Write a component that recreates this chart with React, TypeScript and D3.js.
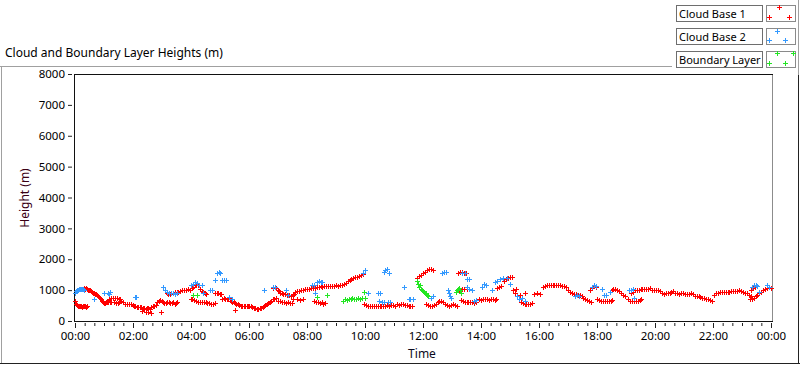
import React, { useEffect, useRef } from 'react';
import * as d3 from 'd3';

// [minutes since 00:00, height m]
const cloudBase1: [number, number][] = [
  [0,640],[2,560],[4,520],[6,500],[8,490],[10,470],[12,480],[14,460],[16,490],[18,470],[20,480],[22,460],[25,470],
  [19,1060],[21,1040],[23,1060],[25,1030],[27,1020],[29,1000],[31,990],[33,970],[35,940],[37,920],[39,900],[41,880],[43,860],[45,830],[47,800],[49,790],[51,760],
  [53,700],[55,640],[57,610],[59,590],[61,580],[63,590],[65,600],[67,600],[69,620],[72,610],[75,630],
  [70,720],[74,760],[78,750],[82,730],[86,760],[90,720],[94,700],
  [80,620],[84,590],[88,580],[92,600],[96,640],[100,600],[104,560],[108,540],[112,550],[116,540],[120,520],
  [122,480],[125,470],[128,450],[131,440],[134,460],[137,440],[140,420],[143,430],[146,400],[149,420],[152,410],[155,390],
  [138,340],[146,300],[150,280],[158,270],
  [158,460],[161,470],[164,490],[167,530],[170,600],[173,650],[176,680],[179,660],[178,290],
  [182,600],[185,590],[188,580],[191,600],[194,610],[197,590],[200,580],[203,600],[206,560],[209,570],[212,600],
  [190,900],[193,860],[196,880],[199,900],[202,920],[206,940],[210,930],[214,950],[218,980],[222,1000],[226,1000],[230,1010],[234,1030],[238,1020],[242,1060],[245,1100],[248,1150],[251,1160],[254,1180],
  [240,700],[243,720],[246,690],[250,650],[254,630],[258,620],[262,600],[266,610],[270,600],[274,580],[278,570],[282,560],[286,560],[290,570],
  [256,1150],[259,1050],[262,980],[265,940],[268,900],[271,880],
  [290,900],[293,920],[296,900],[299,880],[302,860],
  [305,720],[308,730],[311,720],[314,710],[317,720],[320,710],[323,700],
  [322,650],[325,620],[328,600],[331,580],[334,560],[337,540],[340,520],[330,350],
  [343,500],[346,490],[349,480],[352,490],[355,480],[358,470],[361,470],[364,480],[367,460],
  [370,430],[373,410],[376,400],[379,390],[382,410],[385,420],
  [388,450],[391,480],[394,520],[397,550],[400,580],
  [403,620],[406,660],[409,700],[412,720],[415,750],
  [410,1080],[413,1100],[416,1060],
  [419,1000],[422,960],[425,920],[428,900],[431,880],[434,870],
  [420,660],[424,640],[428,620],[432,600],[436,590],[440,600],[444,580],[448,590],
  [438,850],[442,830],[446,820],[450,840],[454,860],
  [456,950],[460,960],[464,980],
  [452,700],[460,700],[466,690],[472,700],
  [468,1000],[472,1020],[476,1040],[480,1030],[484,1050],[488,1060],[492,1070],[496,1080],[500,1090],
  [504,1110],[508,1120],[512,1110],[516,1120],[520,1130],[524,1120],[528,1140],[532,1130],[536,1140],[540,1150],[544,1140],[548,1160],[552,1170],
  [556,1200],[560,1240],[564,1280],[568,1320],[572,1360],[576,1380],[580,1420],[584,1440],[588,1470],[592,1500],[596,1530],
  [494,660],[498,620],[502,600],[506,580],[510,600],[514,560],[518,580],
  [598,560],[602,520],[606,500],[610,480],[614,470],[618,480],[622,470],[626,480],[630,490],[634,500],[638,490],[642,500],[646,510],[650,500],
  [654,520],[658,530],[662,500],[666,540],[670,520],[674,560],[678,550],[682,520],[686,510],[690,500],[694,490],[698,500],
  [708,1400],[712,1450],[716,1500],[720,1560],[724,1600],[728,1660],[732,1700],[736,1680],[740,1650],
  [726,560],[730,520],[734,500],[738,480],[742,520],[746,560],[750,600],[754,640],[758,660],[762,620],[766,560],[770,520],[774,500],[778,520],[782,540],[786,520],[790,500],
  [792,1560],[796,1580],[800,1600],[804,1560],[808,1550],
  [795,1000],[800,1030],[805,1050],[810,1040],
  [798,680],[802,650],[806,620],[810,610],[814,600],[818,620],[822,600],[826,590],[830,610],
  [836,700],[840,690],[844,720],[848,700],[852,710],[856,690],[860,700],[864,700],[868,680],[872,700],
  [874,1060],[878,1100],[882,1140],
  [888,1300],[892,1350],[896,1400],[900,1440],[904,1420],
  [906,1000],[910,900],[914,800],[918,700],[922,620],[926,580],[930,560],[934,540],[938,560],[942,550],[946,580],
  [912,1050],[920,850],[930,900],
  [950,880],[956,900],[962,870],
  [968,1100],[972,1130],[976,1150],[980,1160],[984,1170],[988,1180],[992,1170],[996,1160],[1000,1150],[1004,1160],[1008,1140],[1012,1120],[1016,1100],
  [1020,1000],[1024,950],[1028,900],[1032,880],[1036,860],[1040,840],
  [1044,850],[1048,800],[1052,760],[1056,720],[1060,680],[1064,640],[1068,610],
  [1066,1000],[1070,1080],[1074,1120],[1078,1100],
  [1080,720],[1084,680],[1088,650],[1092,640],[1096,650],[1100,640],[1104,660],[1108,650],[1112,680],
  [1110,1000],[1114,1050],[1118,1030],[1122,1000],[1126,960],
  [1130,900],[1134,850],[1138,800],
  [1144,700],[1148,660],[1152,640],[1156,650],[1160,640],[1164,650],[1168,680],[1172,700],
  [1150,900],[1154,950],[1158,1000],[1162,1020],[1166,1010],[1170,1040],[1174,1050],[1178,1030],[1182,1050],[1186,1040],[1190,1060],[1194,1020],[1198,1000],[1202,1010],[1206,990],[1210,980],
  [1214,900],[1218,880],[1222,900],[1226,910],[1230,920],[1234,940],[1238,960],[1242,920],[1246,900],[1250,880],
  [1254,920],[1258,900],[1262,880],[1266,860],[1270,880],[1274,900],[1278,860],[1282,820],[1286,800],
  [1290,800],[1294,780],[1298,760],[1302,740],[1306,720],[1310,700],[1314,680],[1318,660],
  [1322,850],[1326,900],[1330,920],[1334,930],[1338,940],[1342,940],[1346,950],[1350,940],[1354,950],[1358,960],[1362,970],[1366,960],[1370,980],[1374,990],[1378,960],[1382,940],[1386,920],[1390,900],
  [1394,850],[1398,800],
  [1396,720],[1400,700],[1404,760],[1408,800],[1412,850],[1416,900],[1420,950],[1424,1000],[1428,1050],[1432,1080],[1436,1100],[1440,1080],
  [1398,1000],[1402,1060],[1406,1100],
];

const cloudBase2: [number, number][] = [
  [0,900],[2,960],[4,1000],[6,1010],[8,1030],[10,1040],[12,1050],[14,1050],[16,1040],[18,1020],
  [40,710],[60,900],[68,920],[70,860],[72,950],[124,780],[126,790],
  [182,1100],[186,1000],[190,950],[194,920],[198,900],[202,920],[206,880],[210,920],
  [240,1160],[244,1200],[248,1250],[252,1220],[256,1180],[262,1150],[265,900],[280,1000],[284,1000],
  [290,1330],[294,1560],[298,1580],[300,1540],[304,1330],[308,1330],[312,1330],[318,780],[324,700],
  [390,1000],[410,1110],[414,1100],[436,1000],[440,850],[490,1170],[494,1180],[496,900],
  [500,1270],[504,1280],[508,1270],[512,1260],
  [596,1550],[600,1650],[606,900],[626,900],[628,650],[632,900],[636,600],[640,610],[648,600],[652,600],
  [640,1600],[642,1650],[646,1700],[650,1540],[680,1100],[690,700],[694,720],[700,700],
  [730,800],[736,750],[740,800],[760,1560],[764,1600],[768,1580],[772,1000],[774,900],[776,800],[778,750],
  [800,1550],[806,1560],[812,1350],[816,1360],[810,1100],[816,1050],[822,1000],[826,650],[830,680],
  [842,1100],[846,1200],[850,1150],[862,1000],[870,1250],[874,1300],[880,1350],[886,1400],[894,1400],
  [900,1200],[914,800],[918,700],[924,750],[932,650],
  [1034,800],[1038,850],[1042,820],[1070,1100],[1074,1150],[1078,1120],[1090,1050],[1094,850],[1098,850],[1106,950],
  [1146,1000],[1150,1000],[1154,1050],[1156,750],
  [1400,1100],[1404,1150],[1408,1150],[1412,1120],[1416,950],[1432,1150],[1436,1100],
];

const boundaryLayer: [number, number][] = [
  [245,830],[252,850],[500,780],[522,850],
  [555,650],[558,700],[562,680],[566,700],[570,720],[574,740],[578,700],[582,720],[586,760],[590,700],[594,750],[598,950],[600,760],
  [708,1300],[710,1200],[712,1100],[714,1150],[716,1050],[718,1000],[720,980],[722,950],[724,900],[726,920],[728,850],[730,800],
  [788,950],[790,1000],[792,1050],[794,1080],[796,1000],[798,900],
];

const yTicks = [0, 1000, 2000, 3000, 4000, 5000, 6000, 7000, 8000];
const xMajorTicks = [0, 120, 240, 360, 480, 600, 720, 840, 960, 1080, 1200, 1320, 1440];
const xTickLabels = ['00:00', '02:00', '04:00', '06:00', '08:00', '10:00', '12:00', '14:00', '16:00', '18:00', '20:00', '22:00', '00:00'];

const seriesNames = ['Cloud Base 1', 'Cloud Base 2', 'Boundary Layer'];
const seriesColors = ['#ff0000', '#3399ff', '#22e622'];

const FONT = '"Noto Sans", "Open Sans", sans-serif';

const plusPath = (cx: number, cy: number) => {
  const x = Math.round(cx);
  const y = Math.round(cy);
  return `M${x - 2},${y + 0.5}h5M${x + 0.5},${y - 2}v5`;
};

const App = () => {
  const svgRef = useRef<SVGSVGElement | null>(null);
  const width = 800;
  const height = 365;

  useEffect(() => {
    if (!svgRef.current) return;
    const svg = d3.select(svgRef.current);
    svg.selectAll('*').remove();

    const x = d3.scaleLinear().domain([0, 1440]).range([75, 771]);
    const y = d3.scaleLinear().domain([0, 8000]).range([321, 74]);

    svg.append('rect').attr('width', width).attr('height', height).attr('fill', '#fff');

    // outer panel frame
    svg.append('path').attr('d', 'M0,66.5H672').attr('stroke', '#a0a0a0').attr('fill', 'none');
    svg.append('path').attr('d', 'M1.5,66V364').attr('stroke', '#a0a0a0').attr('fill', 'none');
    svg.append('path').attr('d', 'M798.5,0V75').attr('stroke', '#a0a0a0').attr('fill', 'none');
    svg.append('path').attr('d', 'M798.5,75V364').attr('stroke', '#222').attr('fill', 'none');
    svg.append('path').attr('d', 'M0,363.5H800').attr('stroke', '#222').attr('fill', 'none');

    // title
    svg.append('text')
      .attr('x', 5).attr('y', 57)
      .attr('font-family', FONT).attr('font-size', 12)
      .attr('fill', '#000')
      .text('Cloud and Boundary Layer Heights (m)');

    // plot frame
    svg.append('path').attr('d', 'M772.5,74V322').attr('stroke', '#8c8c8c').attr('fill', 'none');
    svg.append('path').attr('d', 'M74,74.5H773').attr('stroke', '#111').attr('fill', 'none');
    svg.append('path').attr('d', 'M74,321.5H773').attr('stroke', '#111').attr('fill', 'none');
    svg.append('path').attr('d', 'M74.5,74V322').attr('stroke', '#111').attr('fill', 'none');

    // y axis
    const yAxis = svg.append('g')
      .attr('transform', 'translate(72,0)')
      .call(d3.axisLeft(y).tickValues(yTicks).tickSize(4).tickPadding(3).tickFormat(d3.format('d')));
    yAxis.select('.domain').remove();
    yAxis.selectAll('line').attr('stroke', '#222');
    yAxis.selectAll('text')
      .attr('font-family', FONT).attr('font-size', 11.5).attr('fill', '#000');

    // x axis minor ticks
    const minor = d3.range(0, 1441, 20).filter(v => v % 120 !== 0);
    const xMinor = svg.append('g')
      .attr('transform', 'translate(0,323)')
      .call(d3.axisBottom(x).tickValues(minor).tickSize(3).tickFormat(() => ''));
    xMinor.select('.domain').remove();
    xMinor.selectAll('line').attr('stroke', '#222');

    const xAxis = svg.append('g')
      .attr('transform', 'translate(0,323)')
      .call(d3.axisBottom(x).tickValues(xMajorTicks).tickSize(5)
        .tickFormat((d, i) => xTickLabels[i]));
    xAxis.select('.domain').remove();
    xAxis.selectAll('line').attr('stroke', '#222');
    xAxis.selectAll('text')
      .attr('y', 17).attr('dy', null)
      .attr('font-family', FONT).attr('font-size', 11.5).attr('fill', '#000');

    // axis titles
    svg.append('text')
      .attr('transform', 'translate(28.5,198) rotate(-90)')
      .attr('text-anchor', 'middle')
      .attr('font-family', FONT).attr('font-size', 12)
      .attr('fill', '#3a0014')
      .text('Height (m)');

    svg.append('text')
      .attr('x', 422).attr('y', 357.5)
      .attr('text-anchor', 'middle')
      .attr('font-family', FONT).attr('font-size', 12)
      .attr('fill', '#0a0a20')
      .text('Time');

    // data
    const allSeries = [cloudBase1, cloudBase2, boundaryLayer];
    allSeries.forEach((series, i) => {
      svg.append('path')
        .attr('d', series.map(([t, h]) => plusPath(x(t), y(h))).join(''))
        .attr('stroke', seriesColors[i])
        .attr('stroke-width', 1)
        .attr('fill', 'none')
        .attr('shape-rendering', 'crispEdges');
    });

    // legend
    const swatchMarks = [
      [[779, 7], [769, 17], [789, 17]],
      [[777, 31], [769, 40], [785, 40]],
      [[777, 53], [793, 53], [769, 63], [785, 63]],
    ];
    seriesNames.forEach((name, i) => {
      const top = 5 + i * 23;
      svg.append('rect')
        .attr('x', 676.5).attr('y', top + 0.5)
        .attr('width', 86).attr('height', 16)
        .attr('fill', '#fff').attr('stroke', '#6e6e6e');
      svg.append('text')
        .attr('x', 679).attr('y', top + 12.5)
        .attr('font-family', FONT).attr('font-size', 11)
        .attr('fill', '#000')
        .text(name);
      svg.append('rect')
        .attr('x', 766.5).attr('y', top + 0.5)
        .attr('width', 29).attr('height', 16)
        .attr('fill', '#fff').attr('stroke', '#8a8a8a');
      svg.append('path')
        .attr('d', swatchMarks[i].map(([mx, my]) => plusPath(mx, my)).join(''))
        .attr('stroke', seriesColors[i])
        .attr('fill', 'none')
        .attr('shape-rendering', 'crispEdges');
    });
  }, []);

  return (
    <div style={{ position: 'fixed', left: 0, top: 0, width: 800, height: 365, background: '#fff' }}>
      <svg ref={svgRef} width={width} height={height} style={{ display: 'block' }}></svg>
    </div>
  );
};

export default App;
